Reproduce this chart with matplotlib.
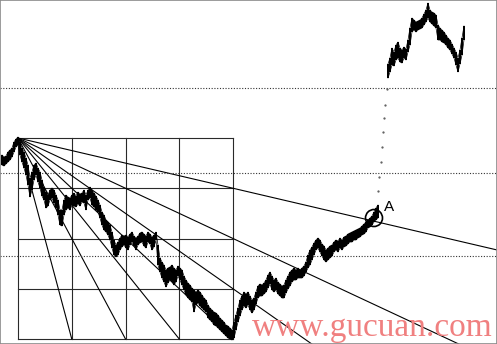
import matplotlib
matplotlib.use("Agg")
import matplotlib.pyplot as plt
from matplotlib.patches import Circle

# price bars (bar position, high, low)
days = [2, 4, 6, 8, 10, 12, 14, 16, 18, 20, 22, 24, 26, 28, 30, 32, 34, 36, 38, 40,
        42, 44, 46, 48, 50, 52, 54, 56, 58, 60, 62, 64, 66, 68, 70, 72, 74, 76, 78, 80,
        82, 84, 86, 88, 90, 92, 94, 96, 98, 100, 102, 104, 106, 108, 110, 112, 114, 116, 118, 120,
        122, 124, 126, 128, 130, 132, 134, 136, 138, 140, 142, 144, 146, 148, 150, 152, 154, 156, 158, 160,
        162, 164, 166, 168, 170, 172, 174, 176, 178, 180, 182, 184, 186, 188, 190, 192, 194, 196, 198, 200,
        202, 204, 206, 208, 210, 212, 214, 216, 218, 220, 222, 224, 226, 228, 230, 232, 234, 236, 238, 240,
        242, 244, 246, 248, 250, 252, 254, 256, 258, 260, 262, 264, 266, 268, 270, 272, 274, 276, 278, 280,
        282, 284, 286, 288, 290, 292, 294, 296, 298, 300, 302, 304, 306, 308, 310, 312, 314, 316, 318, 320,
        322, 324, 326, 328, 330, 332, 334, 336, 338, 340, 342, 344, 346, 348, 350, 352, 354, 356, 358, 360,
        362, 364, 366, 368, 370, 372, 374, 376, 378]
highs = [189, 187, 188, 192, 194, 196, 202, 205, 207, 202, 196, 192, 186, 179, 166, 172, 179, 181, 176, 172,
         164, 157, 152, 149, 154, 156, 154, 149, 144, 134, 134, 144, 149, 147, 146, 149, 151, 148, 152, 150,
         151, 154, 149, 154, 157, 154, 151, 148, 144, 139, 132, 129, 124, 122, 119, 112, 104, 99, 102, 106,
         109, 108, 109, 107, 110, 112, 108, 106, 108, 111, 112, 110, 108, 112, 110, 107, 109, 112, 99, 86,
         82, 79, 74, 76, 77, 79, 76, 74, 78, 76, 74, 68, 64, 61, 59, 56, 54, 52, 54, 52,
         49, 46, 44, 39, 36, 34, 32, 31, 29, 26, 24, 22, 19, 18, 16, 14, 22, 29, 36, 44,
         48, 52, 50, 52, 48, 44, 46, 52, 58, 60, 59, 61, 64, 69, 72, 68, 64, 66, 62, 60,
         58, 59, 64, 68, 72, 74, 76, 74, 76, 74, 76, 78, 82, 89, 94, 97, 101, 104, 106, 104,
         100, 98, 94, 96, 98, 99, 102, 104, 103, 106, 104, 107, 108, 110, 111, 112, 113, 114, 115, 116,
         118, 120, 122, 124, 126, 128, 132, 136, 139]
lows = [179, 178, 180, 182, 184, 187, 192, 197, 199, 189, 182, 176, 169, 159, 147, 154, 164, 169, 162, 156,
        148, 144, 136, 138, 144, 146, 141, 136, 129, 119, 118, 129, 134, 136, 134, 139, 138, 137, 140, 138,
        142, 141, 134, 144, 146, 139, 137, 134, 132, 126, 119, 114, 112, 109, 104, 96, 89, 87, 89, 94,
        97, 99, 96, 94, 99, 102, 98, 94, 99, 101, 102, 98, 96, 102, 100, 94, 97, 104, 79, 72,
        66, 62, 57, 61, 64, 62, 59, 62, 68, 64, 59, 54, 49, 46, 44, 42, 32, 39, 41, 38,
        36, 34, 32, 26, 24, 22, 19, 18, 16, 14, 12, 10, 8, 6, 5, 4, 6, 14, 22, 28,
        34, 38, 36, 39, 34, 31, 34, 40, 46, 48, 48, 50, 52, 56, 60, 54, 52, 54, 50, 48,
        46, 46, 51, 55, 58, 62, 64, 64, 66, 66, 66, 68, 72, 76, 79, 84, 89, 94, 96, 92,
        88, 84, 82, 84, 86, 88, 92, 94, 92, 96, 94, 97, 98, 100, 102, 102, 104, 104, 106, 107,
        109, 110, 112, 116, 117, 119, 122, 124, 126]

# isolated ticks in the gap
gap_days = [378, 379, 381, 382, 383, 384, 385, 387]
gap_prices = [153, 167, 182, 197, 212, 226, 239, 255]

# after the gap
top_days = [388, 390, 392, 394, 396, 398, 400, 402, 404, 406, 408, 410, 412, 414, 416, 418, 420, 422, 424, 426,
            428, 430, 432, 434, 436, 438, 440, 442, 444, 446, 448, 450, 452, 454, 456, 458, 460, 462, 464]
top_highs = [280, 286, 296, 292, 299, 302, 296, 294, 297, 295, 304, 316, 326, 324, 322, 323, 324, 326, 330, 334,
             341, 334, 332, 331, 329, 319, 316, 314, 312, 309, 306, 304, 300, 296, 292, 286, 294, 306, 318]
top_lows = [266, 272, 279, 278, 284, 286, 282, 281, 286, 284, 292, 299, 312, 314, 312, 314, 315, 316, 319, 322,
            326, 322, 320, 318, 316, 304, 304, 302, 301, 299, 296, 294, 290, 286, 279, 272, 280, 289, 304]

# Gann box and fan
box_left, box_right = 18, 233
box_top, box_bottom = 206, 5
n_cells = 4
fan = [(4, 1), (4, 2), (4, 3), (4, 4), (3, 4), (2, 4), (1, 4)]  # (columns, rows)
levels = [256, 171, 88]  # dotted horizontal levels
point_a = (374, 126)

fig = plt.figure(figsize=(4.97, 3.44), dpi=100)
ax = fig.add_axes([0, 0, 1, 1])
ax.set_xlim(0, 497)
ax.set_ylim(0, 344)
ax.set_xticks([])
ax.set_yticks([])
for s in ax.spines.values():
    s.set_color("#8a8a8a")
    s.set_linewidth(1.2)

# box grid
cw = (box_right - box_left) / n_cells
ch = (box_top - box_bottom) / n_cells
for i in range(n_cells + 1):
    ax.plot([box_left + i * cw] * 2, [box_bottom, box_top], color="#2a2a2a", lw=0.8)
    ax.plot([box_left, box_right], [box_top - i * ch] * 2, color="#2a2a2a", lw=0.8)

# fan lines from the top-left corner
for cols, rows in fan:
    slope = -(rows * ch) / (cols * cw)
    if cols == 4 and rows < 4:
        x_end = 497
    else:
        x_end = box_left + cols * cw
    ax.plot([box_left, x_end], [box_top, box_top + slope * (x_end - box_left)],
            color="black", lw=0.8)

for lv in levels:
    ax.axhline(lv, color="#333333", lw=0.8, ls=(0, (1, 1.5)))

# price bars
ax.vlines(days, lows, highs, color="black", lw=1.45)
ax.plot(days, highs, color="black", lw=0.5)
ax.plot(days, lows, color="black", lw=0.5)
ax.vlines(top_days, top_lows, top_highs, color="black", lw=1.45)
ax.plot(top_days, top_highs, color="black", lw=0.5)
ax.plot(top_days, top_lows, color="black", lw=0.5)
ax.plot(gap_days, gap_prices, ".", color="#555555", ms=1.2)

ax.add_patch(Circle(point_a, 8.5, fill=False, color="black", lw=1.2))
ax.text(point_a[0] + 15, point_a[1] + 11, "A", fontsize=11, family="Liberation Sans",
        ha="center", va="center")

ax.text(252, 8, "www.gucuan.com", fontsize=24, family="Liberation Serif",
        color="#f08080", ha="left", va="baseline", zorder=5)

fig.savefig("out.png", dpi=100)
